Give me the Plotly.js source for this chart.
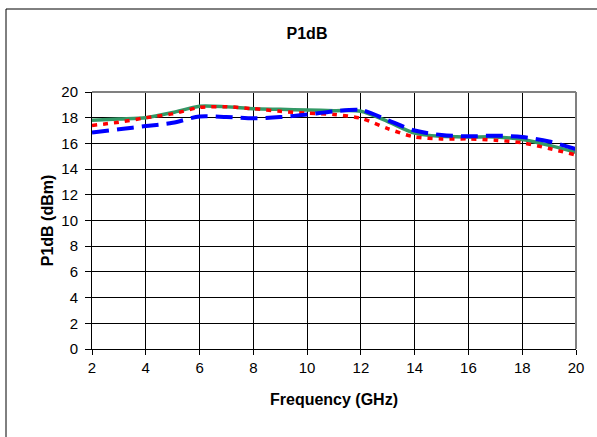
<!DOCTYPE html>
<html>
<head>
<meta charset="utf-8">
<script src="https://cdn.plot.ly/plotly-3.0.1.min.js"></script>
<style>html,body{margin:0;padding:0;background:#fff;}#chart{width:597px;height:437px;}</style>
</head>
<body>
<div id="chart"></div>
<script>
const freq = [2,3,4,5,6,7,8,9,10,11,12,13,14,15,16,17,18,19,20];
const greenP1dB = [17.8,17.9,18.0,18.4,18.9,18.85,18.7,18.65,18.6,18.55,18.5,17.7,16.8,16.55,16.5,16.5,16.3,15.85,15.3];
const redP1dB   = [17.4,17.65,18.0,18.3,18.8,18.85,18.7,18.5,18.35,18.25,17.95,17.15,16.5,16.35,16.35,16.25,16.05,15.6,15.1];
const blueP1dB  = [16.85,17.1,17.35,17.6,18.1,18.05,17.95,18.05,18.25,18.5,18.6,17.8,17.0,16.65,16.55,16.6,16.5,16.15,15.55];
const xTicks = [2,4,6,8,10,12,14,16,18,20];
const yTicks = [0,2,4,6,8,10,12,14,16,18,20];

const font = "Liberation Sans, Arial, sans-serif";
const traces = [
  {x: freq, y: greenP1dB, mode: 'lines', line: {color: '#339966', width: 3.5, shape: 'spline', smoothing: 0.8}},
  {x: freq, y: redP1dB, mode: 'lines', line: {color: '#FF0000', width: 3.5, dash: '5px,6px', shape: 'spline', smoothing: 0.8}},
  {x: freq, y: blueP1dB, mode: 'lines', line: {color: '#0000FF', width: 4, dash: '17px,8px', shape: 'spline', smoothing: 0.8}}
];
const layout = {
  width: 597, height: 437,
  margin: {l: 92, r: 21, t: 92, b: 88},
  paper_bgcolor: '#fff', plot_bgcolor: '#fff',
  showlegend: false,
  font: {family: font, color: '#000'},
  title: {text: '<b>P1dB</b>', font: {size: 16, family: font, color: '#000'}, x: 307/597, xref: 'container', xanchor: 'center', y: 1 - 33/437, yref: 'container', yanchor: 'middle'},
  xaxis: {
    range: [2, 20], tickvals: xTicks, ticktext: xTicks.map(String),
    showgrid: true, gridcolor: '#000', gridwidth: 1,
    showline: true, linecolor: '#000', linewidth: 1,
    ticks: 'outside', ticklen: 5, tickcolor: '#000', tickfont: {size: 15, family: font},
    zeroline: false,
    title: {text: '<b>Frequency (GHz)</b>', font: {size: 16, family: font}, standoff: 18}
  },
  yaxis: {
    range: [0, 20], tickvals: yTicks, ticktext: yTicks.map(String),
    showgrid: true, gridcolor: '#000', gridwidth: 1,
    showline: true, linecolor: '#000', linewidth: 1,
    ticks: 'outside', ticklen: 6, tickcolor: '#000', tickfont: {size: 15, family: font},
    ticklabelstandoff: 4,
    zeroline: false,
    title: {text: '<b>P1dB (dBm)</b>', font: {size: 16, family: font}, standoff: 3}
  },
  shapes: [
    {type: 'line', xref: 'paper', yref: 'paper', x0: 0, x1: 1, y0: 1, y1: 1, line: {color: '#808080', width: 2}},
    {type: 'line', xref: 'paper', yref: 'paper', x0: 1, x1: 1, y0: 0, y1: 1, line: {color: '#808080', width: 2}},
    {type: 'rect', xref: 'paper', yref: 'paper', x0: (6-92)/484, x1: (605-92)/484, y0: (349-445)/257, y1: (349-9)/257, line: {color: '#000', width: 1}, fillcolor: 'rgba(0,0,0,0)', layer: 'below'}
  ]
};
Plotly.newPlot('chart', traces, layout, {staticPlot: true, displayModeBar: false});
</script>
</body>
</html>
